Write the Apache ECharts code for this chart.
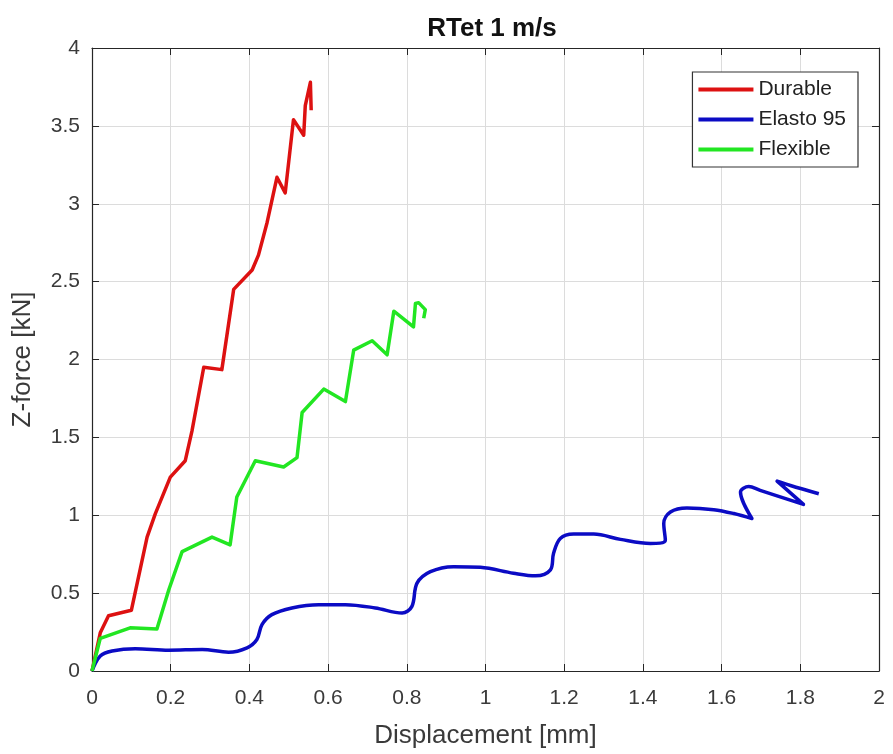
<!DOCTYPE html>
<html>
<head>
<meta charset="utf-8">
<script src="https://cdn.jsdelivr.net/npm/echarts@6/dist/echarts.min.js"></script>
<style>
  html, body { margin: 0; padding: 0; background: #fff; }
  #chart { width: 893px; height: 754px; }
</style>
</head>
<body>
<div id="chart"></div>
<script>
// Displacement [mm] / Z-force [kN] samples for each material
const durable = [
  [0, 0], [0.021, 0.245], [0.042, 0.355], [0.10, 0.39], [0.14, 0.86],
  [0.161, 1.01], [0.199, 1.245], [0.237, 1.35], [0.254, 1.54], [0.284, 1.95],
  [0.33, 1.935], [0.36, 2.45], [0.407, 2.575], [0.423, 2.67], [0.445, 2.88],
  [0.47, 3.17], [0.491, 3.07], [0.512, 3.54], [0.538, 3.44], [0.542, 3.63],
  [0.555, 3.78], [0.558, 3.78], [0.557, 3.60]
];
const elasto95 = [
  [0, 0], [0.021, 0.096], [0.051, 0.128], [0.11, 0.143], [0.195, 0.134],
  [0.28, 0.138], [0.347, 0.121], [0.394, 0.149], [0.419, 0.202], [0.432, 0.298],
  [0.457, 0.362], [0.508, 0.405], [0.576, 0.426], [0.644, 0.426], [0.72, 0.405],
  [0.788, 0.372], [0.813, 0.415], [0.826, 0.564], [0.86, 0.638], [0.919, 0.67],
  [0.987, 0.666], [1.071, 0.628], [1.127, 0.611], [1.165, 0.649], [1.173, 0.756],
  [1.19, 0.851], [1.224, 0.879], [1.275, 0.879], [1.343, 0.845], [1.419, 0.819],
  [1.457, 0.84], [1.453, 0.947], [1.47, 1.021], [1.512, 1.047], [1.58, 1.036],
  [1.631, 1.011], [1.677, 0.979], [1.648, 1.149], [1.669, 1.185], [1.698, 1.16],
  [1.808, 1.07], [1.741, 1.219], [1.775, 1.191], [1.847, 1.138]
];
const flexible = [
  [0, 0], [0.021, 0.21], [0.097, 0.277], [0.165, 0.27], [0.195, 0.52],
  [0.229, 0.766], [0.305, 0.86], [0.351, 0.81], [0.368, 1.117], [0.415, 1.35],
  [0.487, 1.31], [0.521, 1.37], [0.534, 1.66], [0.589, 1.81], [0.644, 1.73],
  [0.665, 2.06], [0.712, 2.12], [0.75, 2.03], [0.767, 2.31], [0.817, 2.21],
  [0.822, 2.36], [0.83, 2.365], [0.847, 2.32], [0.843, 2.265]
];
const seriesNames = ['Durable', 'Elasto 95', 'Flexible'];
const seriesColors = ['#dd1111', '#0b0bc4', '#22e622'];

const FONT = "'Liberation Sans', Arial, sans-serif";
const axisColor = '#262626';
const textColor = '#3a3a3a';

function boxAxis(opts, show) {
  return Object.assign({
    type: 'value',
    axisLine: { show: true, onZero: false, lineStyle: { color: axisColor, width: 1.2 } },
    axisTick: { show: true, inside: true, length: 7, lineStyle: { color: axisColor } },
    axisLabel: { show: false },
    splitLine: { show: show, lineStyle: { color: '#dcdcdc', width: 1 } }
  }, opts);
}

const chart = echarts.init(document.getElementById('chart'), null, { renderer: 'canvas' });
chart.setOption({
  backgroundColor: '#fff',
  animation: false,
  title: {
    text: 'RTet 1 m/s',
    left: 487, top: 11, textAlign: 'center',
    textStyle: { fontFamily: FONT, fontSize: 26, fontWeight: 'bold', color: '#111' }
  },
  grid: { left: 92, right: 14, top: 48, bottom: 82 },
  legend: {
    data: seriesNames,
    orient: 'vertical',
    right: 35, top: 72,
    padding: [7, 12, 7, 6],
    itemGap: 9,
    itemWidth: 55, itemHeight: 4,
    icon: 'rect',
    borderColor: '#333', borderWidth: 1.2,
    backgroundColor: '#fff',
    textStyle: { fontFamily: FONT, fontSize: 21, color: '#222' }
  },
  xAxis: [
    boxAxis({
      min: 0, max: 2, interval: 0.2, position: 'bottom',
      name: 'Displacement [mm]', nameLocation: 'middle', nameGap: 52,
      nameTextStyle: { fontFamily: FONT, fontSize: 26, color: textColor },
      axisLabel: { color: textColor, fontFamily: FONT, fontSize: 21, margin: 17 }
    }, true),
    boxAxis({ min: 0, max: 2, interval: 0.2, position: 'top' }, false)
  ],
  yAxis: [
    boxAxis({
      min: 0, max: 4, interval: 0.5, position: 'left',
      name: 'Z-force [kN]', nameLocation: 'middle', nameGap: 56,
      nameTextStyle: { fontFamily: FONT, fontSize: 26, color: textColor },
      axisLabel: { color: textColor, fontFamily: FONT, fontSize: 21, margin: 12 }
    }, true),
    boxAxis({ min: 0, max: 4, interval: 0.5, position: 'right' }, false)
  ],
  series: [
    { name: seriesNames[0], data: durable, color: seriesColors[0] },
    { name: seriesNames[1], data: elasto95, color: seriesColors[1], smooth: 0.35 },
    { name: seriesNames[2], data: flexible, color: seriesColors[2] }
  ].map(s => Object.assign({
    type: 'line', xAxisIndex: 0, yAxisIndex: 0,
    showSymbol: false, symbol: 'none',
    lineStyle: { width: 3.5, color: s.color, join: 'round' }
  }, s))
});
</script>
</body>
</html>
